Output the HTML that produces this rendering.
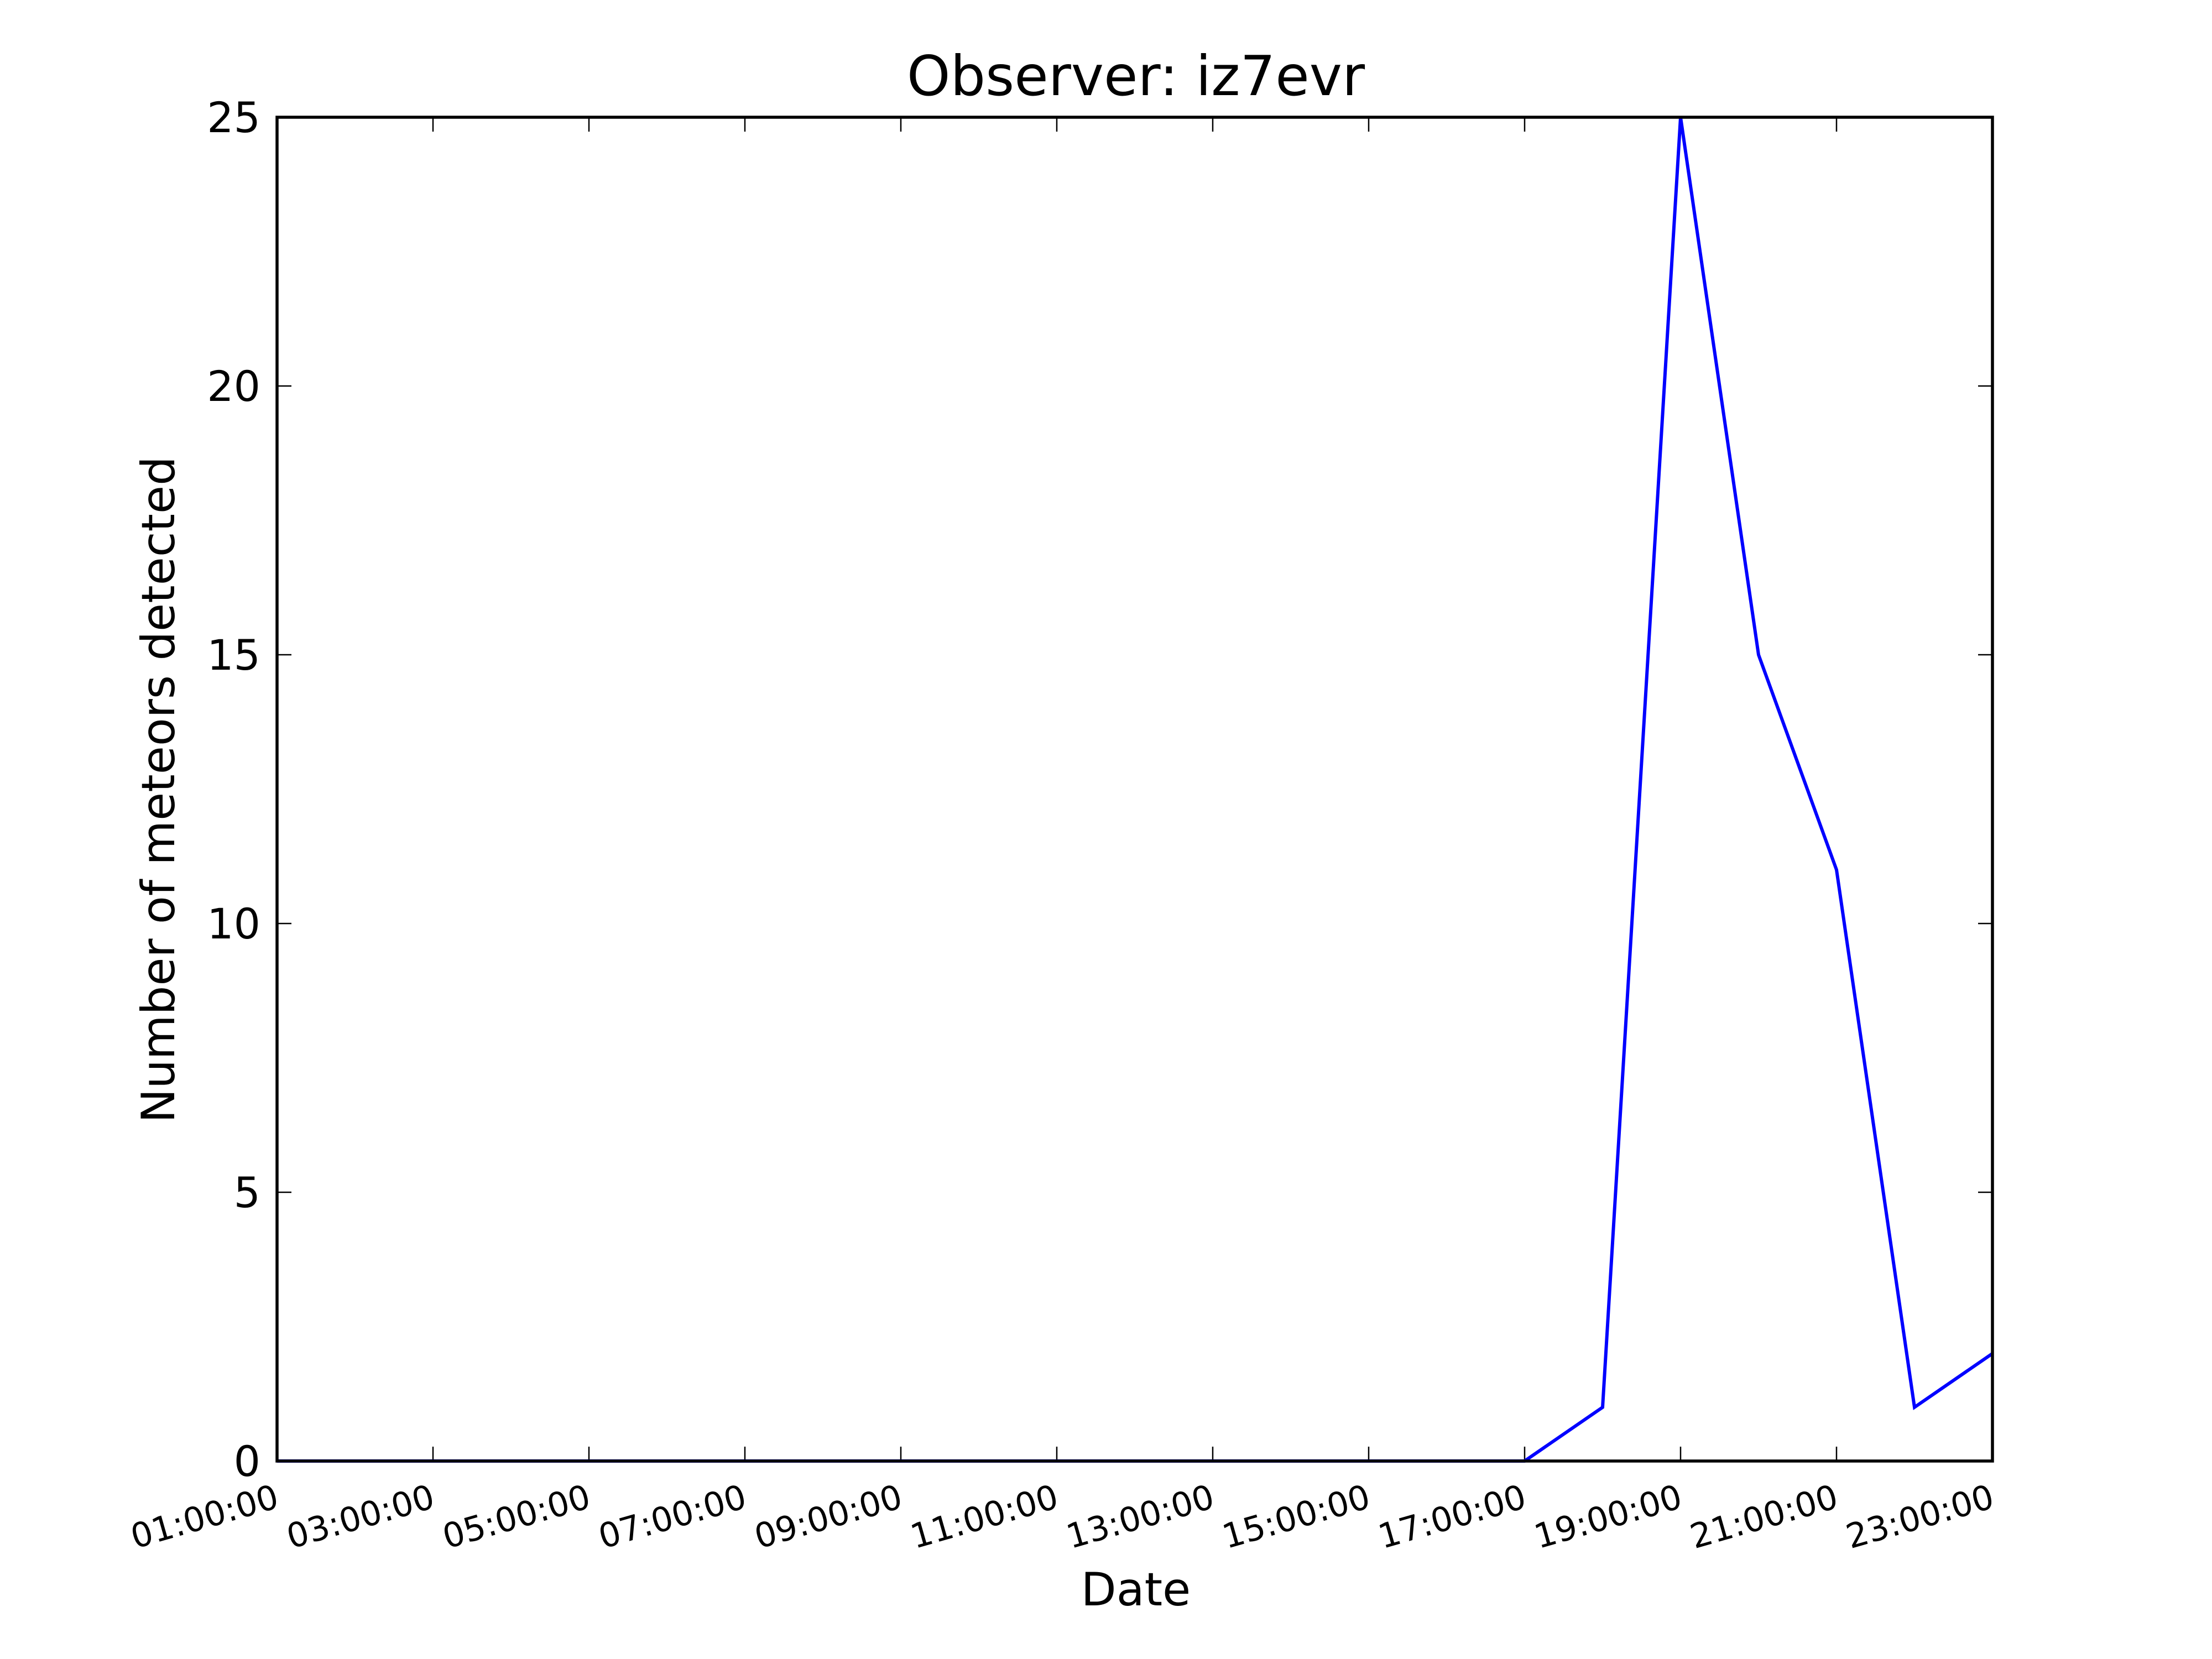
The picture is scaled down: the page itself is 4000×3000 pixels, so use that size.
<!DOCTYPE html>
<html><head><meta charset="utf-8"><style>html,body{margin:0;padding:0;background:#fff}svg{display:block}</style></head>
<body>
<svg id="chart" width="4000" height="3000" viewBox="0 0 4000 3000" xmlns="http://www.w3.org/2000/svg" font-family="'DejaVu Sans','Liberation Sans',sans-serif">
<rect width="4000" height="3000" fill="#fff"/>
<text x="2054" y="172" font-size="100" text-anchor="middle">Observer: iz7evr</text>
<text x="2054" y="2903" font-size="83" text-anchor="middle">Date</text>
<text transform="translate(315,1428) rotate(-90)" font-size="83" text-anchor="middle">Number of meteors detected</text>
<g id="ticks"></g>
<polyline id="series" fill="none" stroke="#0000ff" stroke-width="6" stroke-linejoin="miter"/>
<rect x="501" y="212" width="3102" height="2430" fill="none" stroke="#000" stroke-width="5.5"/>
</svg>
<script>
const hours = [1,2,3,4,5,6,7,8,9,10,11,12,13,14,15,16,17,18,19,20,21,22,23];
const counts = [0,0,0,0,0,0,0,0,0,0,0,0,0,0,0,0,0,1,25,15,11,1,2];
const xTickHours = [1,3,5,7,9,11,13,15,17,19,21,23];
const xTickLabels = ["01:00:00","03:00:00","05:00:00","07:00:00","09:00:00","11:00:00","13:00:00","15:00:00","17:00:00","19:00:00","21:00:00","23:00:00"];
const yTicks = [0,5,10,15,20,25];

const L=501,R=3603,T=212,B=2642;
const xMin=1,xMax=23,yMin=0,yMax=25;
function sx(h){return L+(h-xMin)/(xMax-xMin)*(R-L);}
function sy(v){return B-(v-yMin)/(yMax-yMin)*(B-T);}
const NS="http://www.w3.org/2000/svg";
const g=document.getElementById('ticks');
function mk(tag,attrs){const e=document.createElementNS(NS,tag);for(const k in attrs)e.setAttribute(k,attrs[k]);g.appendChild(e);return e;}

xTickHours.forEach((h,i)=>{
  const x=sx(h);
  const t1=mk('line',{x1:x,y1:B,x2:x,y2:B-26,stroke:'#000','stroke-width':2.5});
  
  
  const t2=mk('line',{x1:x,y1:T,x2:x,y2:T+26,stroke:'#000','stroke-width':2.5});
  
  
  const tx=mk('text',{transform:`translate(${x-6},${B+40}) rotate(-16)`,'font-size':61,'text-anchor':'end','dominant-baseline':'hanging'});
  tx.textContent=xTickLabels[i];
  
  
});
yTicks.forEach(v=>{
  const y=sy(v);
  const a=mk('line',{x1:L,y1:y,x2:L+26,y2:y,stroke:'#000','stroke-width':2.5});
  
  
  const b=mk('line',{x1:R,y1:y,x2:R-26,y2:y,stroke:'#000','stroke-width':2.5});
  
  
  const tx=mk('text',{x:L-30,y:y+27,'font-size':76,'text-anchor':'end'});
  tx.textContent=String(v);
  
  
});
document.getElementById('series').setAttribute('points',hours.map((h,i)=>sx(h)+','+sy(counts[i])).join(' '));
</script>
</body></html>
